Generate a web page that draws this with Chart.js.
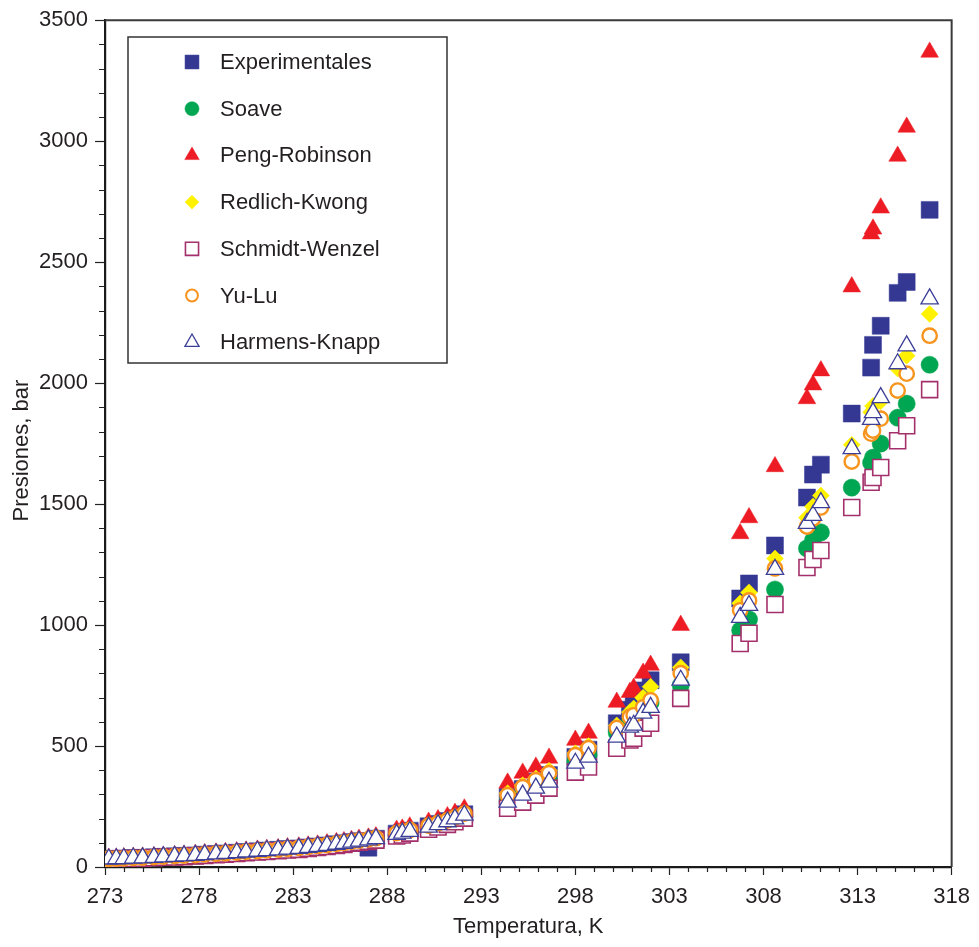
<!DOCTYPE html>
<html><head><meta charset="utf-8">
<script src="https://cdn.jsdelivr.net/npm/chart.js@4.4.1/dist/chart.umd.min.js"></script>
<style>html,body{margin:0;padding:0;background:#fff;}#wrap{width:979px;height:947px;position:relative;}</style>
</head><body><div id="wrap"><canvas id="c"></canvas></div>
<script>
// Temperatures (K), shared by all series
const temperatures = [
  273.2, 273.6, 274.0, 274.5, 275.0, 275.6, 276.1, 276.7, 277.2, 277.8,
  278.3, 278.9, 279.4, 280.0, 280.5, 281.1, 281.6, 282.2, 282.7, 283.3,
  283.8, 284.3, 284.8, 285.3, 285.7, 286.1, 286.5, 287.0, 287.4,
  288.5, 288.8, 289.2, 290.2, 290.7, 291.2, 291.6, 292.1,
  294.4, 295.2, 295.9, 296.6,
  298.0, 298.7,
  300.2, 300.9, 301.1, 301.6, 302.0,
  303.6,
  306.76, 307.23, 308.61, 310.31, 310.63, 311.05, 312.69, 313.72, 313.82, 314.23, 315.13, 315.61, 316.83
];
// Pressures (bar)
const experimentales = [
  33, 34, 35, 37, 38, 40, 42, 44, 46, 48, 51, 54, 56, 59, 62, 65, 68, 71, 74, 77, 81, 85, 89, 94, 98, 103, 107, 80, 117,
  138, 142, 150, 168, 178, 190, 202, 218,
  290, 322, 352, 380,
  455, 485,
  594, 650, 669, 730, 772,
  846,
  1110, 1172, 1329, 1527, 1622, 1663, 1874, 2064, 2158, 2237, 2373, 2418, 2716
];
const soave = [
  32, 33, 34, 36, 37, 39, 41, 43, 45, 47, 50, 53, 55, 58, 61, 64, 67, 70, 73, 76, 80, 84, 88, 93, 97, 102, 106, 111, 116,
  133, 138, 145, 162, 172, 183, 195, 210,
  270, 300, 328, 355,
  435, 462,
  555, 600, 610, 650, 680,
  751,
  978, 1024, 1147, 1317, 1350, 1383, 1568, 1671, 1692, 1750, 1857, 1915, 2076
];
const pengRobinson = [
  36, 37, 38, 40, 41, 43, 45, 47, 49, 52, 55, 58, 60, 63, 66, 70, 73, 76, 80, 83, 87, 91, 96, 101, 105, 110, 115, 120, 125,
  152, 157, 166, 185, 196, 208, 222, 240,
  347, 388, 413, 450,
  524, 553,
  681, 722, 739, 801, 834,
  999,
  1378, 1444, 1655, 1936, 1993, 2051, 2398, 2617, 2637, 2724, 2938, 3058, 3368
];
const redlichKwong = [
  34, 35, 36, 38, 39, 41, 43, 45, 47, 50, 53, 55, 58, 61, 64, 67, 70, 73, 76, 80, 84, 88, 92, 97, 101, 106, 111, 115, 120,
  142, 147, 155, 173, 183, 195, 208, 224,
  305, 338, 366, 398,
  470, 500,
  585, 640, 655, 700, 745,
  825,
  1090, 1135, 1275, 1444, 1490, 1535, 1745, 1880, 1905, 1925, 2060, 2113, 2286
];
const schmidtWenzel = [
  31, 32, 33, 35, 36, 38, 40, 41, 43, 46, 48, 51, 53, 56, 59, 62, 64, 67, 70, 73, 77, 81, 85, 89, 93, 98, 102, 106, 111,
  128, 132, 140, 156, 165, 176, 187, 202,
  243, 268, 297, 326,
  392, 413,
  491, 525, 532, 574, 594,
  697,
  924, 966, 1085, 1238, 1271, 1308, 1486, 1590, 1610, 1651, 1762, 1824, 1973
];
const yuLu = [
  34, 35, 36, 38, 39, 41, 43, 45, 47, 49, 52, 55, 57, 60, 63, 66, 69, 72, 75, 79, 83, 87, 91, 96, 100, 105, 109, 114, 119,
  140, 145, 153, 171, 181, 193, 205, 221,
  297, 330, 359, 388,
  462, 491,
  574, 620, 627, 660, 689,
  801,
  1061, 1102, 1234, 1407, 1440, 1486, 1676, 1791, 1804, 1853, 1969, 2039, 2196
];
const harmensKnapp = [
  33, 34, 35, 37, 38, 40, 42, 44, 46, 48, 51, 54, 56, 59, 62, 65, 68, 71, 74, 77, 81, 85, 89, 94, 98, 103, 107, 112, 117,
  135, 140, 147, 165, 175, 187, 199, 214,
  268, 297, 326, 351,
  429, 454,
  537, 578, 586, 636, 660,
  772,
  1032, 1081, 1230, 1420, 1453, 1506, 1729, 1850, 1878, 1940, 2080, 2154, 2348
];
const seriesNames = ['Experimentales', 'Soave', 'Peng-Robinson', 'Redlich-Kwong', 'Schmidt-Wenzel', 'Yu-Lu', 'Harmens-Knapp'];
const xTickLabels = [273, 278, 283, 288, 293, 298, 303, 308, 313, 318];
const yTickLabels = [0, 500, 1000, 1500, 2000, 2500, 3000, 3500];
const xTitle = 'Temperatura, K';
const yTitle = 'Presiones, bar';

const FONT = '"Liberation Sans", Arial, Helvetica, sans-serif';
const TXT = '#231f20';

const styles = [
  {pointStyle: 'rect', radius: 12, bg: '#343893', border: '#343893', bw: 0.5, order: 7},
  {pointStyle: 'circle', radius: 8.6, bg: '#00a651', border: '#00a651', bw: 0.5, order: 6},
  {pointStyle: 'triangle', radius: 10.2, bg: '#ed1c24', border: '#ed1c24', bw: 0.5, order: 5},
  {pointStyle: 'rectRot', radius: 8.5, bg: '#fff200', border: '#fff200', bw: 0.5, order: 4},
  {pointStyle: 'rect', radius: 11.3, bg: '#ffffff', border: '#a4306b', bw: 1.6, order: 3},
  {pointStyle: 'circle', radius: 7.2, bg: '#ffffff', border: '#f7941d', bw: 2.4, order: 2},
  {pointStyle: 'triangle', radius: 10, bg: '#ffffff', border: '#3c3f98', bw: 1.3, order: 1}
];
const seriesValues = [experimentales, soave, pengRobinson, redlichKwong, schmidtWenzel, yuLu, harmensKnapp];

const datasets = seriesValues.map((vals, k) => ({
  label: seriesNames[k],
  data: temperatures.map((t, i) => ({x: t, y: vals[i]})),
  pointStyle: styles[k].pointStyle,
  pointRadius: styles[k].radius,
  pointHoverRadius: styles[k].radius,
  backgroundColor: styles[k].bg,
  borderColor: styles[k].border,
  pointBorderWidth: styles[k].bw,
  borderWidth: styles[k].bw,
  showLine: false,
  order: styles[k].order
}));

function markerPath(ctx, style, x, y, r) {
  ctx.beginPath();
  if (style === 'rect') {
    const s = Math.SQRT1_2 * r;
    ctx.rect(x - s, y - s, 2 * s, 2 * s);
  } else if (style === 'circle') {
    ctx.arc(x, y, r, 0, Math.PI * 2);
  } else if (style === 'triangle') {
    let rad = 0;
    ctx.moveTo(x + Math.sin(rad) * r, y - Math.cos(rad) * r);
    rad += 2 * Math.PI / 3;
    ctx.lineTo(x + Math.sin(rad) * r, y - Math.cos(rad) * r);
    rad += 2 * Math.PI / 3;
    ctx.lineTo(x + Math.sin(rad) * r, y - Math.cos(rad) * r);
  } else if (style === 'rectRot') {
    ctx.moveTo(x - r, y); ctx.lineTo(x, y - r); ctx.lineTo(x + r, y); ctx.lineTo(x, y + r);
  }
  ctx.closePath();
}

const decorPlugin = {
  id: 'decor',
  afterDatasetsDraw(chart) {
    const ctx = chart.ctx;
    const a = chart.chartArea;
    const xs = chart.scales.x, ys = chart.scales.y;
    ctx.save();
    // frame top/right
    ctx.strokeStyle = '#3a3a3a';
    ctx.lineWidth = 2;
    ctx.beginPath();
    ctx.moveTo(a.left, a.top); ctx.lineTo(a.right, a.top); ctx.lineTo(a.right, a.bottom);
    ctx.stroke();
    // minor ticks
    ctx.strokeStyle = '#222';
    ctx.lineWidth = 1.2;
    ctx.beginPath();
    for (let j = 0; j < xTickLabels.length - 1; j++) {
      const v0 = xTickLabels[j], v1 = xTickLabels[j + 1];
      for (let m = 1; m < 5; m++) {
        const px = Math.round(xs.getPixelForValue(v0 + (v1 - v0) * m / 5)) + 0.5;
        ctx.moveTo(px, a.bottom); ctx.lineTo(px, a.bottom + 5);
      }
    }
    for (let j = 0; j < yTickLabels.length - 1; j++) {
      const v0 = yTickLabels[j], v1 = yTickLabels[j + 1];
      for (let m = 1; m < 5; m++) {
        const py = Math.round(ys.getPixelForValue(v0 + (v1 - v0) * m / 5)) + 0.5;
        ctx.moveTo(a.left - 6, py); ctx.lineTo(a.left, py);
      }
    }
    ctx.stroke();
    // legend box
    const L = 128, T = 37, R = 447, B = 363;
    ctx.fillStyle = '#ffffff';
    ctx.fillRect(L, T, R - L, B - T);
    ctx.strokeStyle = '#333';
    ctx.lineWidth = 1.5;
    ctx.strokeRect(L, T, R - L, B - T);
    ctx.font = '22px ' + FONT;
    ctx.textBaseline = 'middle';
    ctx.textAlign = 'left';
    for (let k = 0; k < seriesNames.length; k++) {
      const cy = 62 + k * 46.7;
      const st = styles[k];
      markerPath(ctx, st.pointStyle, 192, cy, st.radius * 0.82);
      ctx.fillStyle = st.bg;
      ctx.fill();
      ctx.strokeStyle = st.border;
      ctx.lineWidth = Math.min(st.bw, 2);
      ctx.stroke();
      ctx.fillStyle = TXT;
      ctx.fillText(seriesNames[k], 220, cy + 1);
    }
    // y axis title (centred slightly below the middle, as in the reference)
    ctx.save();
    ctx.translate(22, (a.top + a.bottom) / 2 + 7);
    ctx.rotate(-Math.PI / 2);
    ctx.textAlign = 'center';
    ctx.textBaseline = 'middle';
    ctx.fillStyle = TXT;
    ctx.font = '22px ' + FONT;
    ctx.fillText(yTitle, 0, 0);
    ctx.restore();
    ctx.restore();
  }
};

Chart.defaults.font.family = FONT;
Chart.defaults.font.size = 22;
Chart.defaults.color = TXT;

new Chart(document.getElementById('c'), {
  type: 'scatter',
  data: {datasets},
  options: {
    responsive: true,
    maintainAspectRatio: false,
    animation: false,
    events: [],
    layout: {padding: {top: 19, right: 25, left: 0, bottom: 0}},
    plugins: {legend: {display: false}, tooltip: {enabled: false}},
    scales: {
      x: {
        type: 'linear',
        min: 273, max: 318,
        afterBuildTicks: (s) => { s.ticks = xTickLabels.map(v => ({value: v})); },
        afterFit: (s) => { s.height = 80; },
        ticks: {padding: 9, autoSkip: false, maxRotation: 0, font: {size: 22}, color: TXT, callback: (v) => String(v)},
        grid: {display: true, drawOnChartArea: false, drawTicks: true, tickLength: 8, tickColor: '#222', tickWidth: 1.2},
        border: {display: true, color: '#1a1a1a', width: 2.2},
        title: {display: true, text: xTitle, font: {size: 22}, color: TXT, padding: {top: 0, bottom: 7}}
      },
      y: {
        type: 'linear',
        min: 0, max: 3500,
        afterBuildTicks: (s) => { s.ticks = yTickLabels.map(v => ({value: v})); },
        afterFit: (s) => { s.width = 105; },
        ticks: {padding: 7, autoSkip: false, font: {size: 22}, color: TXT, callback: (v) => String(v)},
        grid: {display: true, drawOnChartArea: false, drawTicks: true, tickLength: 10, tickColor: '#222', tickWidth: 1.2},
        border: {display: true, color: '#1a1a1a', width: 2.2},
        title: {display: false}
      }
    }
  },
  plugins: [decorPlugin]
});
</script>
</body></html>
